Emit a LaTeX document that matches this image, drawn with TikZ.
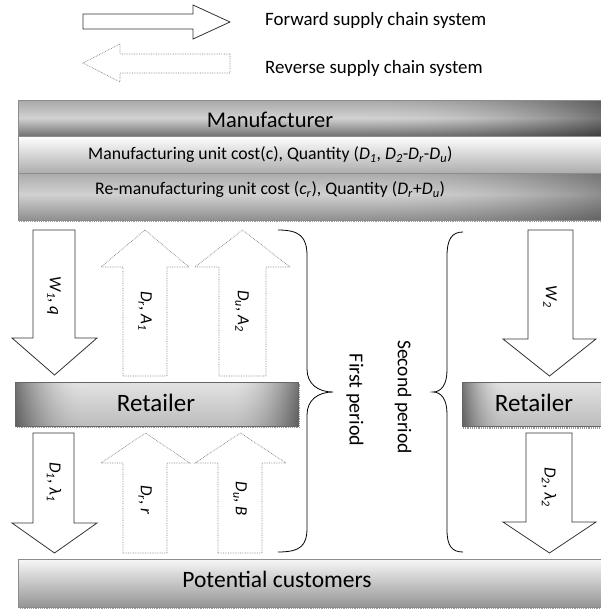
\documentclass[tikz,border=0pt]{standalone}
\usepackage{fontspec}
\setmainfont{Carlito}
\newcommand{\symsub}[2]{\textit{#1}\textsubscript{\textit{#2}}}
% block arrow: shaft left/right, base, neck, head left/right, tip (vertical)
\newcommand{\blkarrow}[8][]{%
  \draw[#1] (#2,#4) -- (#3,#4) -- (#3,#5) -- (#7,#5) -- ({(#6+#7)/2},#8)
    -- (#6,#5) -- (#2,#5) -- cycle;}
% glossy retailer bar: light body, darker bottom, smoothly darkened ends
\pgfdeclarefunctionalshading{barshade}{\pgfpoint{0bp}{0bp}}{\pgfpoint{100bp}{100bp}}{}{
  25 sub 50 div 0.15 mul 0.74 add
  exch 25 sub 50 div
  dup
  dup 0.25 lt {0.25 div 1 exch sub dup mul 0.5 mul 1 exch sub} {pop 1} ifelse
  exch
  dup 0.75 gt {0.75 sub 0.25 div dup mul 0.5 mul 1 exch sub} {pop 1} ifelse
  mul mul
  dup 0 lt {pop 0} if
  dup dup}
% manufacturer title band: dark bottom, light middle, darker right end
\pgfdeclarefunctionalshading{titleshade}{\pgfpoint{0bp}{0bp}}{\pgfpoint{100bp}{100bp}}{}{
  25 sub 50 div
  dup 0.5 lt {0.5 div 0.38 mul 0.44 add} {0.5 sub 0.5 div 0.16 mul 0.82 exch sub} ifelse
  exch 25 sub 50 div
  dup 0.6 gt {0.6 sub 0.4 div dup mul 0.45 mul 1 exch sub} {pop 1} ifelse
  mul
  dup 0 lt {pop 0} if
  dup dup}
% re-manufacturing band
\pgfdeclarefunctionalshading{lowershade}{\pgfpoint{0bp}{0bp}}{\pgfpoint{100bp}{100bp}}{}{
  25 sub 50 div
  dup 0.55 lt {0.55 div 0.26 mul 0.56 add} {0.55 sub 0.45 div 0.15 mul 0.82 exch sub} ifelse
  exch 25 sub 50 div
  dup 0.6 gt {0.6 sub 0.4 div dup mul 0.32 mul 1 exch sub} {pop 1} ifelse
  mul
  dup 0 lt {pop 0} if
  dup dup}
\begin{document}
\begin{tikzpicture}[x=1pt,y=-1pt,
  fwd/.style={draw=black!80, fill=white, line width=0.8pt, line join=miter},
  rev/.style={draw=black!50, fill=white, densely dotted, line width=0.7pt},
  lbl/.style={font=\fontsize{17}{17}\selectfont, rotate=-90, inner sep=0pt},
  legtxt/.style={font=\fontsize{18.9}{18.9}\selectfont, anchor=west, inner sep=0pt},
  rowtxt/.style={font=\fontsize{17.7}{17.7}\selectfont, anchor=west, inner sep=0pt},
  bigtxt/.style={font=\fontsize{23.5}{23.5}\selectfont, inner sep=0pt},
  boxline/.style={draw=black!45, line width=0.5pt},
  barline/.style={draw=black!60, line width=0.5pt},
  shadowline/.style={draw=black!40, densely dotted, line width=1.2pt},
  brace/.style={draw=black, line width=0.8pt}]
\useasboundingbox (0,0) rectangle (600,610);

% legend
\draw[fwd] (83,14) -- (193,14) -- (193,5) -- (230,22) -- (193,39) -- (193,29) -- (83,29) -- cycle;
\node[legtxt] (fwdtxt) at (265,20) {Forward supply chain system};
\draw[rev] (230,54) -- (120,54) -- (120,44) -- (83,63) -- (120,82) -- (120,73) -- (230,73) -- cycle;
\node[legtxt] (revtxt) at (265,68) {Reverse supply chain system};

% manufacturer block
\draw[shadowline] (19,221.5) -- (600,221.5);
\shade[shading=titleshade, boxline] (18,100) rectangle (602,136);
\shade[top color=white, bottom color=black!32, boxline] (18,136) rectangle (602,173);
\shade[shading=lowershade, boxline] (18,173) rectangle (602,220);
\node[bigtxt, font=\fontsize{22.5}{22.5}\selectfont] (mfr) at (270,120) {Manufacturer};
\node[rowtxt] (mrow) at (88,155)
  {Manufacturing unit cost(c), Quantity (\symsub{D}{1}, \symsub{D}{2}-\symsub{D}{r}-\symsub{D}{u})};
\node[rowtxt] (rrow) at (95,190)
  {Re-manufacturing unit cost (\symsub{c}{r}), Quantity (\symsub{D}{r}+\symsub{D}{u})};

% first period, manufacturer to retailer
\blkarrow[fwd]{33}{75}{230}{338}{12}{97}{375}
\node[lbl] (w1q) at (54,296) {\symsub{W}{1}, \textit{q}};
\blkarrow[rev]{123}{167}{376}{267}{101}{189}{230}
\node[lbl] (dra1) at (145,311) {\symsub{D}{r}, \symsub{A}{1}};
\blkarrow[rev]{219}{266}{376}{267}{195}{290}{230}
\node[lbl] (dua2) at (242,311) {\symsub{D}{u}, \symsub{A}{2}};

% retailer, first period
\draw[shadowline] (17,427.5) -- (299.5,427.5) -- (299.5,384);
\shade[shading=barshade, barline] (15,382) rectangle (298,426);
\node[bigtxt, font=\fontsize{25}{25}\selectfont] (ret1) at (156,403) {Retailer};

% first period, retailer to customers
\blkarrow[fwd]{33}{74}{433}{523}{12}{97}{553}
\node[lbl] (d1l1) at (54,482) {\symsub{D}{1}, \textit{λ}\textsubscript{\textit{1}}};
\blkarrow[rev]{123}{167}{553}{463}{101}{190}{433}
\node[lbl] (drr) at (145,500) {\symsub{D}{r}, \textit{r}};
\blkarrow[rev]{218}{262}{553}{463}{195}{286}{433}
\node[lbl] (dub) at (240,499) {\symsub{D}{u}, \textit{B}};

% period braces
\draw[brace] (278,230) .. controls (300,230) and (307,237) .. (307,256) -- (307,369)
  .. controls (307,384) and (318,392) .. (333,392)
  .. controls (318,392) and (307,400) .. (307,415) -- (307,528)
  .. controls (307,546) and (300,552) .. (278,552);
\node[lbl, font=\fontsize{20}{20}\selectfont] (first) at (355,400) {First period};
\draw[brace] (463,232) .. controls (452,232) and (447,239) .. (447,256) -- (447,370)
  .. controls (447,385) and (441,392) .. (433,392)
  .. controls (441,392) and (447,399) .. (447,414) -- (447,530)
  .. controls (447,546) and (452,552) .. (463,552);
\node[lbl, font=\fontsize{19.5}{19.5}\selectfont] (second) at (403,397) {Second period};

% second period
\blkarrow[fwd]{528}{573}{230}{339}{503}{596}{376}
\node[lbl] (w2) at (550,297) {\symsub{W}{2}};
\draw[shadowline] (463,428) -- (600,428);
\shade[shading=barshade, barline] (462,382) rectangle (640,426);
\node[bigtxt, font=\fontsize{25}{25}\selectfont] (ret2) at (534,403) {Retailer};
\blkarrow[fwd]{526}{572}{433}{522}{503}{596}{553}
\node[lbl] (d2l2) at (549,487) {\symsub{D}{2}, \textit{λ}\textsubscript{\textit{2}}};

% potential customers
\draw[shadowline] (20,608.5) -- (600,608.5);
\shade[top color=black!3, bottom color=black!42, boxline] (18,559) rectangle (602,607);
\node[bigtxt] (cust) at (277,579) {Potential customers};
\end{tikzpicture}
\end{document}
